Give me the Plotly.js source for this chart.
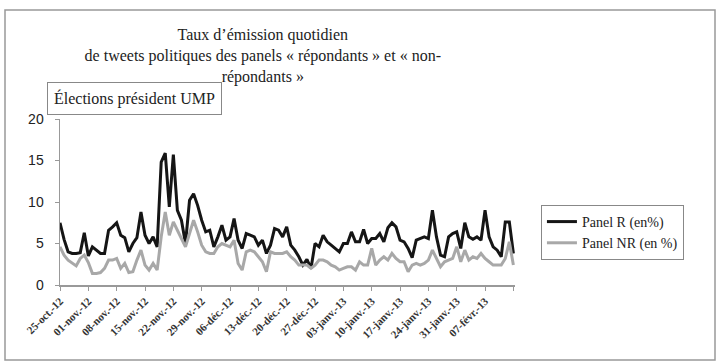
<!DOCTYPE html>
<html>
<head>
<meta charset="utf-8">
<script src="https://cdn.plot.ly/plotly-3.0.1.min.js"></script>
<style>html,body{margin:0;padding:0;background:#fff;}#chart{width:720px;height:364px;}</style>
</head>
<body>
<div id="chart"></div>
<script>
// Day index 0 = 25-oct-12, one value per day up to 14-févr-13
const dayIndex = Array.from({length: 113}, (_, i) => i);

const panelR = [
  7.5, 5.5, 4.0, 3.8, 3.8, 3.9, 6.3, 3.5, 4.6, 4.2,
  3.8, 3.8, 6.6, 7.0, 7.5, 6.0, 5.7, 4.0, 5.0, 5.7,
  8.8, 6.0, 5.0, 5.8, 4.6, 14.8, 15.9, 9.4, 15.7, 9.0,
  7.8, 5.0, 10.2, 11.0, 9.6, 7.8, 6.4, 6.6, 4.6, 5.8,
  7.2, 5.4, 5.8, 8.0, 5.4, 4.4, 6.2, 6.0, 5.8, 4.8,
  5.4, 3.8, 4.8, 6.8, 6.6, 5.8, 7.0, 4.8, 4.2, 3.4,
  2.4, 3.1, 2.0, 5.0, 4.6, 6.0, 5.2, 4.8, 4.4, 4.0,
  5.0, 5.0, 6.4, 5.2, 5.2, 6.7, 5.0, 5.6, 5.6, 6.2,
  5.2, 6.9, 7.5, 7.0, 5.4, 5.2, 4.4, 3.3, 5.4, 5.6,
  5.8, 5.6, 9.0, 5.8, 3.6, 3.4, 5.8, 6.2, 6.4, 4.4,
  7.5, 5.8, 5.5, 5.8, 5.4, 9.0, 5.8, 4.6, 4.2, 3.4,
  7.6, 7.6, 3.8
];

const panelNR = [
  4.6, 3.6, 3.0, 2.6, 2.3, 3.2, 3.6, 2.7, 1.4, 1.4,
  1.5, 2.0, 3.0, 3.0, 3.2, 2.0, 2.6, 1.5, 1.6, 3.0,
  4.2, 2.4, 1.8, 2.6, 1.8, 5.8, 8.8, 6.0, 7.6, 6.6,
  5.6, 4.6, 6.2, 7.8, 6.4, 4.8, 4.0, 3.8, 3.8, 4.6,
  5.0, 4.8, 4.6, 5.4, 2.6, 1.8, 4.0, 4.2, 4.0, 3.4,
  2.8, 1.6, 4.0, 3.8, 3.8, 3.8, 4.0, 3.4, 3.0, 2.4,
  2.4, 2.4, 2.0, 2.4, 3.0, 3.0, 2.8, 2.4, 2.2, 1.8,
  2.0, 2.2, 2.2, 1.8, 2.8, 2.4, 2.4, 4.4, 2.4, 3.0,
  3.4, 3.0, 3.8, 3.2, 2.8, 2.8, 1.6, 2.4, 2.6, 2.4,
  2.6, 3.0, 4.2, 3.2, 2.2, 2.8, 3.0, 3.2, 4.6, 2.8,
  4.2, 3.0, 3.4, 3.2, 3.8, 3.2, 2.8, 2.4, 2.4, 2.4,
  3.2, 5.2, 2.4
];

const tickPositions = [0, 7, 14, 21, 28, 35, 42, 49, 56, 63, 70, 77, 84, 91, 98, 105, 112];
const tickLabels = ["25-oct.-12", "01-nov.-12", "08-nov.-12", "15-nov.-12", "22-nov.-12",
  "29-nov.-12", "06-déc.-12", "13-déc.-12", "20-déc.-12", "27-déc.-12", "03-janv.-13",
  "10-janv.-13", "17-janv.-13", "24-janv.-13", "31-janv.-13", "07-févr.-13", ""];

const serif = "Liberation Serif";

const traces = [
  {x: dayIndex, y: panelR, type: "scatter", mode: "lines", name: "Panel R (en%)",
   line: {color: "#151515", width: 3}},
  {x: dayIndex, y: panelNR, type: "scatter", mode: "lines", name: "Panel NR (en %)",
   line: {color: "#a8a8a8", width: 3}}
];

const layout = {
  width: 720, height: 364,
  margin: {l: 60, r: 205, t: 119, b: 79},
  paper_bgcolor: "#ffffff", plot_bgcolor: "#ffffff",
  showlegend: true,
  title: {
    text: "Taux d’émission quotidien<br>de tweets politiques des panels « répondants » et « non-<br>répondants »",
    font: {family: serif, size: 16, color: "#222"},
    x: 0.365, xanchor: "center", xref: "container",
    y: 0.89, yanchor: "top", yref: "container"
  },
  xaxis: {
    range: [0, 112.4], showgrid: false, zeroline: false,
    tickmode: "array", tickvals: tickPositions, ticktext: tickLabels,
    tickangle: -45, ticks: "outside", ticklen: 4, tickcolor: "#999",
    showline: true, linecolor: "#999", linewidth: 1.5,
    tickfont: {family: serif, size: 11, color: "#333", weight: "bold"}
  },
  yaxis: {
    range: [0, 20], tickvals: [0, 5, 10, 15, 20], showgrid: false, zeroline: false,
    ticks: "outside", ticklen: 4, tickcolor: "#999", ticklabelstandoff: 8,
    showline: true, linecolor: "#999", linewidth: 1.5,
    tickfont: {family: "Liberation Sans", size: 14, color: "#222"}
  },
  legend: {
    x: 1.057, xanchor: "left", y: 0.482, yanchor: "top",
    bordercolor: "#888", borderwidth: 1, bgcolor: "#fff",
    font: {family: serif, size: 14, color: "#222"},
    tracegroupgap: 4
  },
  annotations: [{
    text: "Élections président UMP", xref: "paper", yref: "paper",
    x: (47 - 60) / 455, xanchor: "left", y: (285 - 82) / 166, yanchor: "top",
    showarrow: false, font: {family: serif, size: 16, color: "#222"},
    bordercolor: "#888", borderwidth: 1, borderpad: 6, bgcolor: "#fff"
  }],
  shapes: [{
    type: "rect", xref: "paper", yref: "paper",
    x0: (5 - 60) / 455, x1: (715 - 60) / 455,
    y0: (285 - 360) / 166, y1: (285 - 10) / 166,
    line: {color: "#999", width: 1.5}, layer: "below"
  }]
};

Plotly.newPlot("chart", traces, layout, {displayModeBar: false, staticPlot: true});
</script>
</body>
</html>
